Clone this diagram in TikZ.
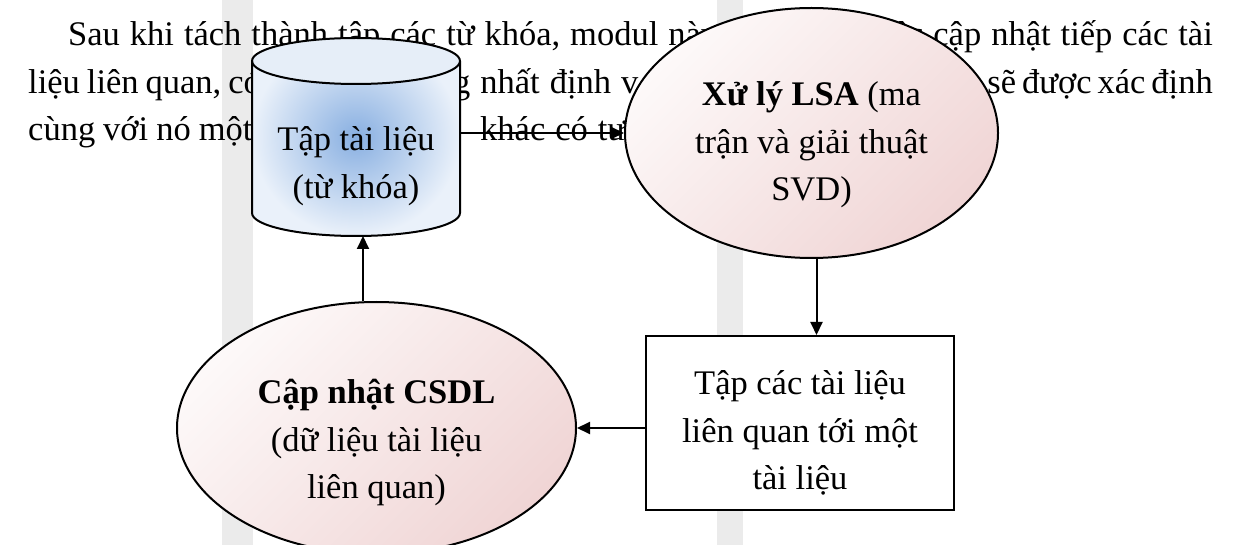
\documentclass[tikz,border=0pt]{standalone}
\usepackage{fontspec}
\setmainfont{Liberation Serif}
\usepackage{tikz}
\usetikzlibrary{arrows.meta,shapes.geometric}

\definecolor{stripe}{RGB}{235,235,235}
\definecolor{canmid}{RGB}{136,175,225}
\definecolor{canout}{RGB}{234,241,250}
\definecolor{cantop}{RGB}{230,238,248}
\definecolor{pinklt}{RGB}{253,249,249}
\definecolor{pinkdk}{RGB}{240,213,213}

\newcommand{\txtsize}{\fontsize{34.5}{47.5}\selectfont}

\tikzset{
  para/.style={inner sep=0pt, font={\txtsize\spaceskip=10pt plus 2pt\relax}},
  oval/.style={ellipse, draw, line width=2pt, inner sep=0pt,
    top color=pinklt, bottom color=pinkdk, shading angle=45},
  words/.style={align=center, font=\txtsize, inner sep=0pt},
  flow/.style={line width=2pt, -{Triangle[length=13pt,width=12pt]}}
}

\begin{document}
\begin{tikzpicture}[x=1pt,y=-1pt]
        \useasboundingbox (0,0) rectangle (1240,545);
        \clip (0,0) rectangle (1240,545);
        \fill[stripe] (222,0) rectangle (253,545);
        \fill[stripe] (717,0) rectangle (743,545);

        % text of the page behind the figure
        \node[para,anchor=base west] (s1a) at (68,46) {Sau khi tách thành tập các từ khóa, modul này};
        \node[para,anchor=base east] (s1b) at (1213,46) {việc cập nhật tiếp các tài};
        \node[para,anchor=base west,font={\txtsize\spaceskip=7pt\relax}] (s2a) at (28,93.5) {liệu liên quan, có};
        \node[para,anchor=base west] (s2b) at (453,93.5) {g nhất định v};
        \node[para,anchor=base east,font={\txtsize\spaceskip=6pt\relax}] (s2c) at (1213,93.5) {sẽ được xác định};
        \node[para,anchor=base west,font={\txtsize\spaceskip=8pt\relax}] (s3a) at (28,141) {cùng với nó một t};
        \node[para,anchor=base west] (s3b) at (480,141) {khác có tươ};

        % database can
        \shade[inner color=canmid, outer color=canout] (252,61) -- (252,213)
          arc[start angle=180, end angle=360, x radius=104pt, y radius=23pt] -- (460,61)
          arc[start angle=0, end angle=180, x radius=104pt, y radius=23pt] -- cycle;
        \fill[cantop] (356,61) ellipse [x radius=104pt, y radius=23pt];
        \draw[line width=2pt] (252,61) -- (252,213)
          arc[start angle=180, end angle=360, x radius=104pt, y radius=23pt] -- (460,61)
          arc[start angle=0, end angle=180, x radius=104pt, y radius=23pt] -- cycle;
        \draw[line width=2pt] (252,61) arc[start angle=180, end angle=360, x radius=104pt, y radius=23pt];
        \node[words] (cyl) at (356,166) {Tập tài liệu\\(từ khóa)};
        \coordinate (cylr) at (460,133);
        \coordinate (cylb) at (363,236);

        \node[oval, minimum width=373pt, minimum height=250pt] (lsa) at (811.5,133) {};
        \node[words] (lsatxt) at ([yshift=-12pt]lsa.center)
          {\textbf{Xử lý LSA} (ma\\trận và giải thuật\\SVD)};
        \node[draw, fill=white, line width=2pt, minimum width=308pt, minimum height=174pt] (box) at (800,423) {};
        \node[words] (boxtxt) at ([yshift=-10pt]box.center)
          {Tập các tài liệu\\liên quan tới một\\tài liệu};
        \node[oval, minimum width=399pt, minimum height=252pt] (upd) at (376.5,428) {};
        \node[words] (updtxt) at ([yshift=-15pt]upd.center)
          {\textbf{Cập nhật CSDL}\\(dữ liệu tài liệu\\liên quan)};

        \draw[flow] (cylr) -- (lsa);
        \draw[flow] ([xshift=5pt]lsa.south) -- ([xshift=5pt]lsa.south |- box.north);
        \draw[flow] (box.west |- upd.east) -- (upd.east);
        \draw[flow] (cylb |- upd.north) -- (cylb);
\end{tikzpicture}
\end{document}
